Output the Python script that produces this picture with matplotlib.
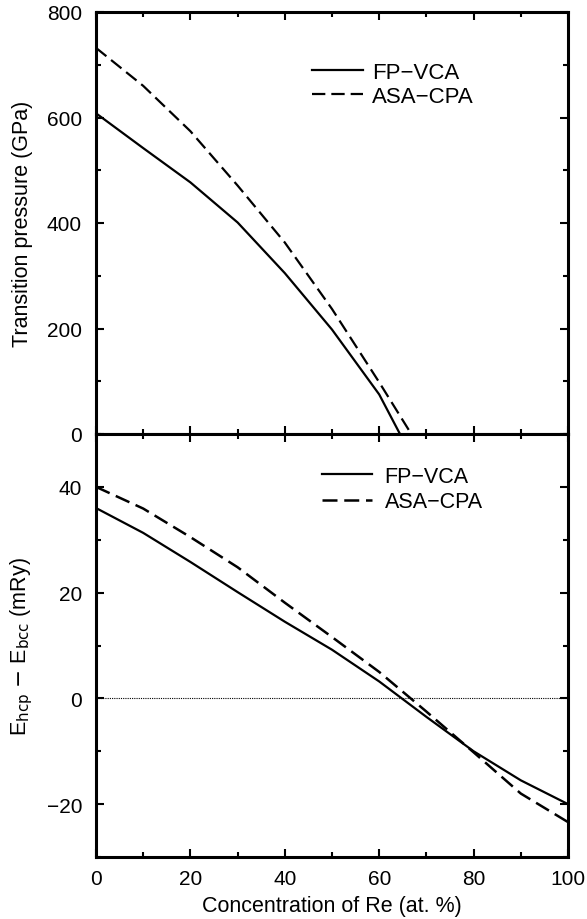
import matplotlib
matplotlib.use("Agg")
import matplotlib.pyplot as plt
from matplotlib.ticker import MultipleLocator

plt.rcParams["font.family"] = ["Liberation Sans", "DejaVu Sans"]

# concentration of Re (at. %)
conc = [0, 10, 20, 30, 40, 50, 60]

# transition pressure (GPa), each curve ends where it reaches zero
p_fpvca_x = conc + [64.4]
p_fpvca = [608, 542, 477, 401, 305, 198, 75, 0]
p_asacpa_x = conc + [66.8]
p_asacpa = [732, 660, 574, 471, 363, 237, 98, 0]

# E_hcp - E_bcc (mRy)
e_conc = [0, 10, 20, 30, 40, 50, 60, 70, 80, 90, 100]
e_fpvca = [36.0, 31.3, 25.8, 20.1, 14.5, 9.2, 3.2, -3.5, -10.0, -15.5, -20.0]
e_asacpa = [40.0, 35.9, 30.5, 24.8, 18.1, 11.6, 5.0, -2.5, -10.2, -18.0, -23.4]

labels = ["FP\u2212VCA", "ASA\u2212CPA"]
dash = (6, 2.7)

fig = plt.figure(figsize=(5.87, 9.20), dpi=100)
left, right = 96 / 587, 568 / 587
ax1 = fig.add_axes([left, 1 - 435 / 920, right - left, 422 / 920])
ax2 = fig.add_axes([left, 1 - 858 / 920, right - left, 423 / 920], sharex=ax1)

ax1.plot(p_fpvca_x, p_fpvca, color="black", lw=1.6, label=labels[0])
ax1.plot(p_asacpa_x, p_asacpa, color="black", lw=1.6, dashes=dash, label=labels[1])
ax2.axhline(0, color="black", lw=0.8, ls=(0, (1, 1.0)))
ax2.plot(e_conc, e_fpvca, color="black", lw=1.6, label=labels[0])
ax2.plot(e_conc, e_asacpa, color="black", lw=1.8, dashes=dash, label=labels[1])

ax1.set_xlim(0, 100)
ax1.set_ylim(0, 800)
ax2.set_ylim(-30, 50)
ax1.yaxis.set_major_locator(MultipleLocator(200))
ax1.yaxis.set_minor_locator(MultipleLocator(100))
ax2.yaxis.set_major_locator(MultipleLocator(20))
ax2.yaxis.set_minor_locator(MultipleLocator(10))
ax2.xaxis.set_major_locator(MultipleLocator(20))
ax2.xaxis.set_minor_locator(MultipleLocator(10))

for ax in (ax1, ax2):
    for s in ax.spines.values():
        s.set_linewidth(2.2)
    ax.tick_params(which="both", direction="in", top=True, right=True,
                   labelsize=15, width=1.5)
    ax.tick_params(which="major", length=6)
    ax.tick_params(which="minor", length=3.5)
    ax.tick_params(axis="y", which="major", pad=10)
    ax.tick_params(axis="x", which="major", pad=9)
ax1.tick_params(labelbottom=False)

ax1.set_ylabel("Transition pressure (GPa)", fontsize=15.5, labelpad=10)
ax2.set_ylabel(r"E$_{\rm hcp}$ $-$ E$_{\rm bcc}$ (mRy)", fontsize=15.5, labelpad=8)
ax2.set_xlabel("Concentration of Re (at. %)", fontsize=15.5, labelpad=5)

ax1.legend(loc="center left", bbox_to_anchor=(0.457, 0.828), frameon=False,
           fontsize=16, handlelength=2.3, handletextpad=0.4, labelspacing=0.13,
           borderpad=0, borderaxespad=0)
ax2.legend(loc="center left", bbox_to_anchor=(0.478, 0.870), frameon=False,
           fontsize=15.5, handlelength=2.35, handletextpad=0.57, labelspacing=0.2,
           borderpad=0, borderaxespad=0)

fig.savefig("out.png", dpi=100)
